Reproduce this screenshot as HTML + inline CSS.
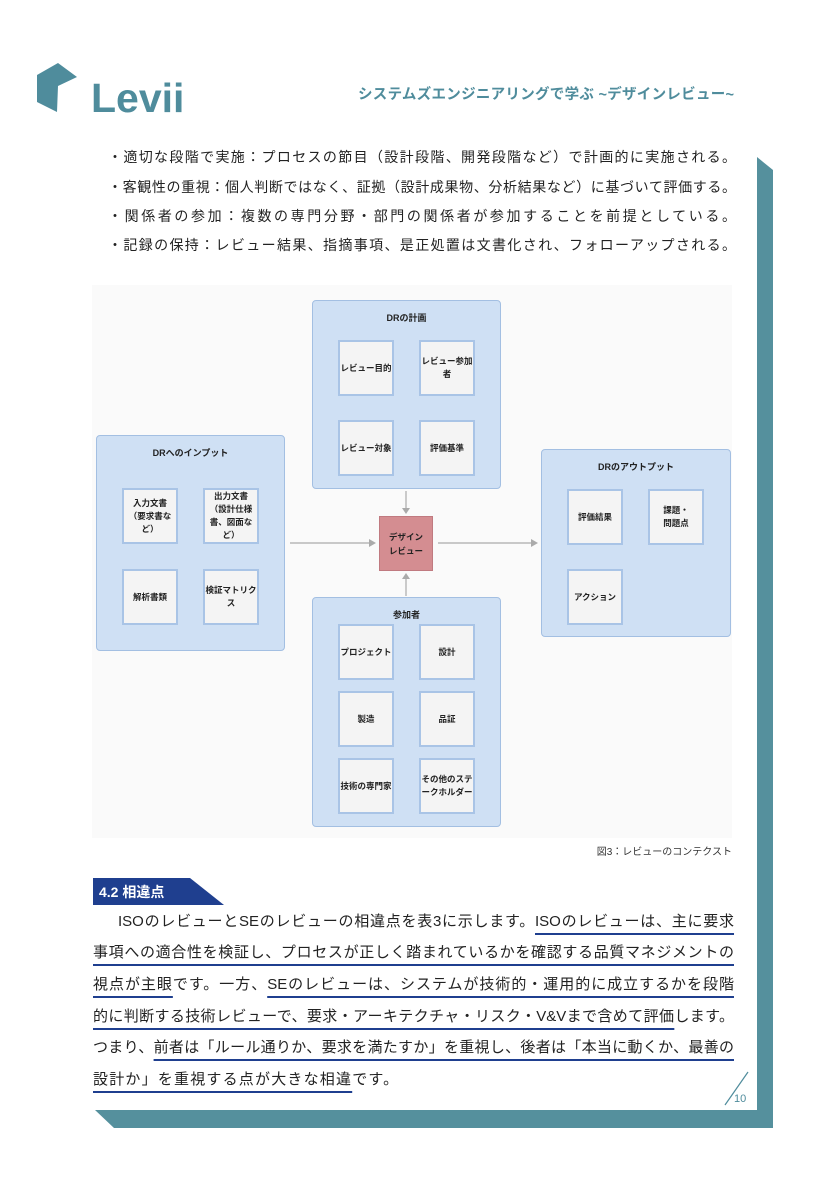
<!DOCTYPE html>
<html><head><meta charset="utf-8">
<style>
*{margin:0;padding:0;box-sizing:border-box}
body{width:825px;height:1200px;background:#fff;position:relative;overflow:hidden;font-family:"Liberation Sans","Noto Sans CJK JP",sans-serif;color:#222}
.a{position:absolute}
.ln{position:absolute;white-space:nowrap;text-align:justify;text-align-last:justify}
.bl{left:108px;width:628px;font-size:14px;height:20px;line-height:20px}
.pl{left:93px;width:641px;font-size:15px;height:22px;line-height:22px}
.u{text-decoration:underline;text-decoration-color:#1f3f8f;text-decoration-thickness:2px;text-underline-offset:7px}
.g{position:absolute;background:#cfe0f4;border:1.5px solid #a3bfe2;border-radius:4px}
.gt{position:absolute;left:0;right:0;text-align:center;font-size:9px;font-weight:bold;color:#222}
.b{position:absolute;width:56px;height:56px;background:#f4f4f4;border:2px solid #a9c4e6;display:flex;align-items:center;justify-content:center;text-align:center;font-size:8.5px;font-weight:bold;line-height:13px;color:#222}
</style></head><body>
<svg class="a" style="left:0;top:0" width="825" height="1200">
<polygon points="37,75 58,63 77,77 58,86 57,112 37,102" fill="#4f8c9c"/>
<rect x="92" y="285" width="640" height="553" fill="#fafafa"/>
<polygon points="757,157 773,170 773,1128 114,1128 95,1110 757,1110" fill="#55909d"/>
<line x1="725" y1="1105" x2="748" y2="1072" stroke="#4f8c9c" stroke-width="1.2"/>
<polygon points="93,878 190,878 224,905 93,905" fill="#1f3f8f"/>
<g stroke="#aaa" stroke-width="1.2" fill="#aaa">
<line x1="406" y1="491" x2="406" y2="509"/><polygon points="402,508 410,508 406,514" stroke="none"/>
<line x1="406" y1="596" x2="406" y2="578"/><polygon points="402,579 410,579 406,573" stroke="none"/>
<line x1="290" y1="543" x2="370" y2="543"/><polygon points="369,539 369,547 376,543" stroke="none"/>
<line x1="438" y1="543" x2="532" y2="543"/><polygon points="531,539 531,547 538,543" stroke="none"/>
</g>
</svg>
<div class="a" style="left:91px;top:78px;font-size:41px;font-weight:bold;color:#4f8c9c;line-height:40px">Levii</div>
<div class="a" style="left:358px;top:86px;width:376px;font-size:14.5px;font-weight:bold;color:#4f8c9c;white-space:nowrap;text-align:justify;text-align-last:justify;line-height:18px">システムズエンジニアリングで学ぶ ~デザインレビュー~</div>
<div class="ln bl" style="top:147px">・適切な段階で実施：プロセスの節目（設計段階、開発段階など）で計画的に実施される。</div>
<div class="ln bl" style="top:177px">・客観性の重視：個人判断ではなく、証拠（設計成果物、分析結果など）に基づいて評価する。</div>
<div class="ln bl" style="top:206px">・関係者の参加：複数の専門分野・部門の関係者が参加することを前提としている。</div>
<div class="ln bl" style="top:235px">・記録の保持：レビュー結果、指摘事項、是正処置は文書化され、フォローアップされる。</div>

<div class="g" style="left:312px;top:300px;width:189px;height:189px"><div class="gt" style="top:10px">DRの計画</div></div>
<div class="b" style="left:338px;top:340px">レビュー目的</div>
<div class="b" style="left:419px;top:340px">レビュー参加<br>者</div>
<div class="b" style="left:338px;top:420px">レビュー対象</div>
<div class="b" style="left:419px;top:420px">評価基準</div>

<div class="g" style="left:96px;top:435px;width:189px;height:216px"><div class="gt" style="top:10px">DRへのインプット</div></div>
<div class="b" style="left:122px;top:488px">入力文書<br>（要求書な<br>ど）</div>
<div class="b" style="left:203px;top:488px">出力文書<br>（設計仕様<br>書、図面な<br>ど）</div>
<div class="b" style="left:122px;top:569px">解析書類</div>
<div class="b" style="left:203px;top:569px">検証マトリク<br>ス</div>

<div class="a" style="left:379px;top:516px;width:54px;height:55px;background:#d48d91;border:1px solid #c07a80;display:flex;align-items:center;justify-content:center;text-align:center;font-size:8.5px;font-weight:bold;line-height:14px">デザイン<br>レビュー</div>

<div class="g" style="left:541px;top:449px;width:190px;height:188px"><div class="gt" style="top:10px">DRのアウトプット</div></div>
<div class="b" style="left:567px;top:489px">評価結果</div>
<div class="b" style="left:648px;top:489px">課題・<br>問題点</div>
<div class="b" style="left:567px;top:569px">アクション</div>

<div class="g" style="left:312px;top:597px;width:189px;height:230px"><div class="gt" style="top:10px">参加者</div></div>
<div class="b" style="left:338px;top:624px">プロジェクト</div>
<div class="b" style="left:419px;top:624px">設計</div>
<div class="b" style="left:338px;top:691px">製造</div>
<div class="b" style="left:419px;top:691px">品証</div>
<div class="b" style="left:338px;top:758px">技術の専門家</div>
<div class="b" style="left:419px;top:758px">その他のステ<br>ークホルダー</div>

<div class="a" style="left:560px;top:843px;width:172px;text-align:right;font-size:10px;color:#333">図3：レビューのコンテクスト</div>

<div class="a" style="left:99px;top:882px;font-size:14px;font-weight:bold;color:#fff;line-height:20px">4.2 相違点</div>
<div class="ln pl" style="top:911px;left:118px;width:616px">ISOのレビューとSEのレビューの相違点を表3に示します。<span class="u">ISOのレビューは、主に要求</span></div>
<div class="ln pl" style="top:942px"><span class="u">事項への適合性を検証し、プロセスが正しく踏まれているかを確認する品質マネジメントの</span></div>
<div class="ln pl" style="top:974px"><span class="u">視点が主眼</span>です。一方、<span class="u">SEのレビューは、システムが技術的・運用的に成立するかを段階</span></div>
<div class="ln pl" style="top:1006px"><span class="u">的に判断する技術レビューで、要求・アーキテクチャ・リスク・V&amp;Vまで含めて評価</span>します。</div>
<div class="ln pl" style="top:1037px">つまり、<span class="u">前者は「ルール通りか、要求を満たすか」を重視し、後者は「本当に動くか、最善の</span></div>
<div class="a pl" style="top:1069px;white-space:nowrap;letter-spacing:1.2px"><span class="u">設計か」を重視する点が大きな相違</span>です。</div>

<div class="a" style="left:734px;top:1093px;font-size:11px;color:#4f8c9c">10</div>
</body></html>
